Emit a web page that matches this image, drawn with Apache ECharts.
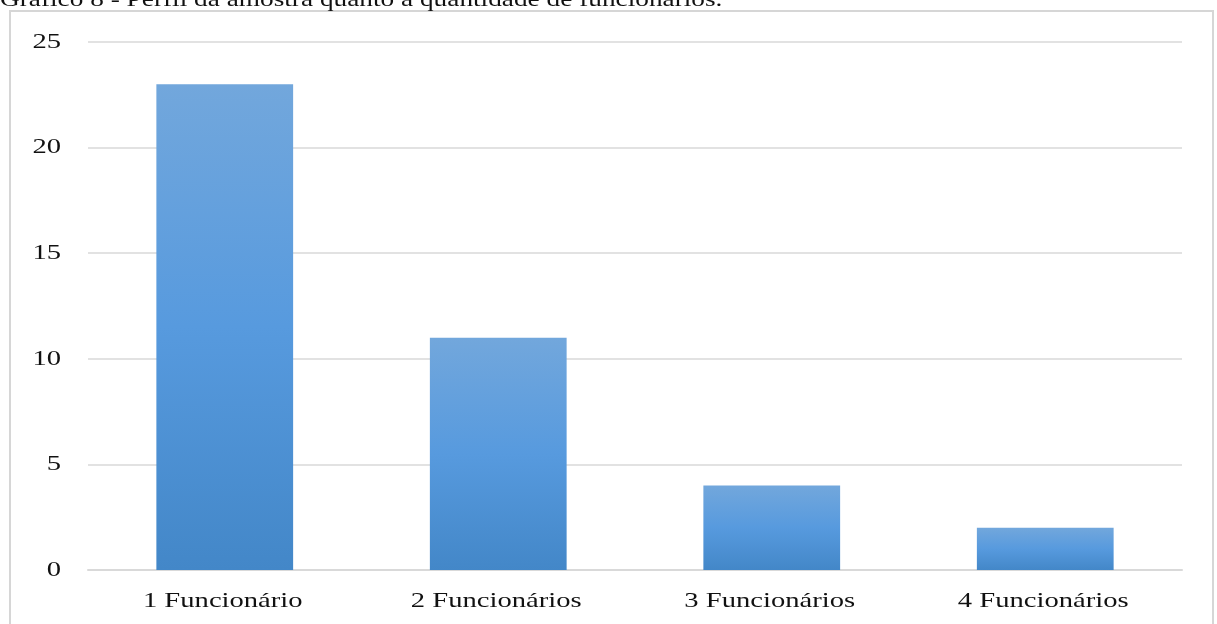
<!DOCTYPE html>
<html><head><meta charset="utf-8">
<script src="https://cdn.jsdelivr.net/npm/echarts@6/dist/echarts.min.js"></script>
<style>html,body{margin:0;padding:0;background:#fff}#c{width:1217px;height:624px}</style>
</head><body><div id="c"></div>
<script>
const titleText = 'Gráfico 8 - Perfil da amostra quanto à quantidade de funcionários.';
const categories = ['1 Funcionário', '2 Funcionários', '3 Funcionários', '4 Funcionários'];
const values = [23, 11, 4, 2];
const yTicks = [0, 5, 10, 15, 20, 25];

const chart = echarts.init(document.getElementById('c'));
const serif = '"Liberation Serif", "DejaVu Serif", serif';
const stretch = 1.3;
chart.setOption({
  animation: false,
  backgroundColor: '#fff',
  grid: { left: 88, right: 35, top: 42, bottom: 54 },
  xAxis: {
    type: 'category', data: categories,
    axisLine: { show: true, lineStyle: { color: '#d9d9d9', width: 2 } },
    axisTick: { show: false },
    axisLabel: { show: false }
  },
  yAxis: {
    type: 'value', min: 0, max: 25, interval: 5,
    axisLine: { show: false }, axisTick: { show: false },
    splitLine: { lineStyle: { color: '#d9d9d9', width: 1.5 } },
    axisLabel: { show: false }
  },
  series: [{
    type: 'bar', data: values, barWidth: '50%',
    itemStyle: {
      color: new echarts.graphic.LinearGradient(0, 0, 0, 1, [
        { offset: 0, color: '#72a7dc' },
        { offset: 0.5, color: '#579ade' },
        { offset: 1, color: '#4387c8' }
      ]),
      shadowColor: 'rgba(0,0,0,0.35)', shadowBlur: 6, shadowOffsetX: 3, shadowOffsetY: 1
    }
  }]
});

// Labels drawn as stretched text, positioned through the chart's own scales
const graphics = [
  { type: 'rect', shape: { x: 10, y: 11, width: 1203, height: 640 }, style: { fill: 'none', stroke: '#d6d6d6', lineWidth: 2 }, silent: true },
  { type: 'text', x: 0, y: 0, scaleX: stretch, style: { text: titleText, font: '21px ' + serif, fill: '#111', verticalAlign: 'middle' } }
];
const baseY = chart.convertToPixel({ yAxisIndex: 0 }, 0);
categories.forEach(c => {
  const px = chart.convertToPixel({ xAxisIndex: 0 }, c);
  graphics.push({ type: 'text', x: px - 2, y: baseY + 31, scaleX: stretch,
    style: { text: c, font: '22px ' + serif, fill: '#111', align: 'center', verticalAlign: 'middle' } });
});
const leftX = chart.convertToPixel({ xAxisIndex: 0 }, categories[0]) - (chart.getWidth() - 88 - 35) / categories.length / 2;
yTicks.forEach(t => {
  const py = chart.convertToPixel({ yAxisIndex: 0 }, t);
  graphics.push({ type: 'text', x: leftX - 27, y: py, scaleX: stretch,
    style: { text: String(t), font: '22px ' + serif, fill: '#111', align: 'right', verticalAlign: 'middle' } });
});
chart.setOption({ graphic: graphics });
</script></body></html>
